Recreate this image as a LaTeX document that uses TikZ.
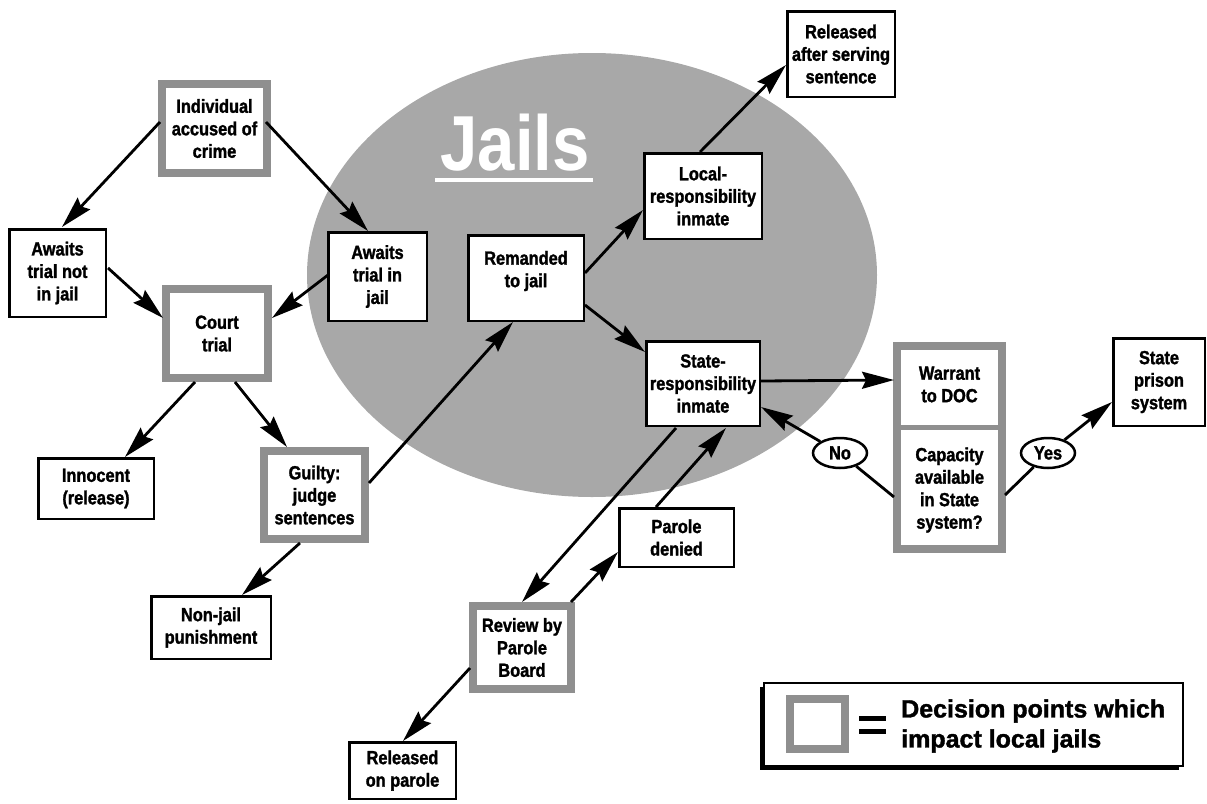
\documentclass[tikz,border=0pt]{standalone}
\usepackage{fontspec}
\setmainfont{Liberation Sans}
\newfontfamily\boxfont[FakeStretch=0.86,FakeBold=1.5]{Liberation Sans}
\newfontfamily\jailfont[FakeStretch=0.86]{Liberation Sans}
\newfontfamily\legendfont[FakeBold=1.5]{Liberation Sans}
\usetikzlibrary{arrows.meta,shapes.geometric}
\definecolor{jailgray}{gray}{0.66}
\definecolor{decgray}{gray}{0.56}
\tikzset{
  boxtext/.style={align=center, inner sep=0pt, font=\boxfont\bfseries\fontsize{19}{22.5}\selectfont},
  plain/.style={boxtext, draw, line width=2.5pt, fill=white},
  decision/.style={boxtext, draw=decgray, line width=8pt, fill=white},
  arr/.style={line width=2.8pt, -{Stealth[length=32pt,width=17pt,inset=4pt]}},
  link/.style={line width=2.8pt},
  yn/.style={ellipse, draw, line width=2.5pt, fill=white, minimum width=54pt, minimum height=30pt, inner sep=0pt, font=\boxfont\bfseries\fontsize{19}{22}\selectfont}
}
\begin{document}
\begin{tikzpicture}[x=1pt,y=-1pt]
\useasboundingbox (0,0) rectangle (1207,803);
% jail ellipse
\fill[jailgray] (592,275) ellipse [x radius=285pt, y radius=222pt];
\node[text=white, font=\jailfont\bfseries\fontsize{78}{78}\selectfont, anchor=base, inner sep=0pt] (jails) at (515,170) {Jails};
\draw[white, line width=4pt] ([shift={(-80,10)}]jails.base) -- ([shift={(78,10)}]jails.base);

% boxes
\node[decision, minimum width=105pt, minimum height=89pt] (indiv) at (214.5,128.5) {Individual\\accused of\\crime};
\node[plain, minimum width=96.5pt, minimum height=87.5pt] (notjail) at (57.5,273) {Awaits\\trial not\\in jail};
\node[plain, minimum width=98.5pt, minimum height=88.5pt] (injail) at (377.5,276.5) {Awaits\\trial in\\jail};
\node[decision, minimum width=102pt, minimum height=89pt] (court) at (217,333.5) {Court\\trial};
\node[plain, minimum width=115.5pt, minimum height=60.5pt] (innocent) at (96,488.5) {Innocent\\(release)};
\node[decision, minimum width=101pt, minimum height=88pt] (guilty) at (314.5,495) {Guilty:\\judge\\sentences};
\node[plain, minimum width=119.5pt, minimum height=62.5pt] (nonjail) at (211,627.5) {Non-jail\\punishment};
\node[plain, minimum width=115.5pt, minimum height=85.5pt] (remanded) at (526,278) {};
\node[boxtext] (remandedtext) at (526,271) {Remanded\\to jail};
\node[plain, minimum width=117.5pt, minimum height=85.5pt] (local) at (703,196) {Local-\\responsibility\\inmate};
\node[plain, minimum width=107.5pt, minimum height=85.5pt] (released) at (841,54) {Released\\after serving\\sentence};
\node[plain, minimum width=113.5pt, minimum height=84.5pt] (state) at (703,383.5) {State-\\responsibility\\inmate};
\node[decision, minimum width=105pt, minimum height=203pt] (dbox) at (949.5,447.5) {};
\draw[decgray, line width=5pt] ([shift={(0,-20.5)}]dbox.west) -- ([shift={(0,-20.5)}]dbox.east);
\node[boxtext, minimum width=113pt, minimum height=85pt] (warrant) at (949.5,384.5) {Warrant\\to DOC};
\node[boxtext, minimum width=113pt, minimum height=126pt] (capacity) at (949.5,490) {Capacity\\available\\in State\\system?};
\node[plain, minimum width=91.5pt, minimum height=87.5pt] (prison) at (1159,382) {State\\prison\\system};
\node[plain, minimum width=114.5pt, minimum height=58.5pt] (denied) at (676.5,537.5) {Parole\\denied};
\node[decision, minimum width=98pt, minimum height=83pt] (review) at (522,647.5) {Review by\\Parole\\Board};
\node[plain, minimum width=106.5pt, minimum height=56.5pt] (parole) at (402.5,770.5) {Released\\on parole};
\node[yn] (no) at (840,453) {No};
\node[yn] (yes) at (1048,453) {Yes};

% connectors
\draw[arr] ([shift={(-54.5,-6.5)}]indiv.center) -- ([shift={(4.5,-46)}]notjail.center);
\draw[arr] ([shift={(51.5,-6.5)}]indiv.center) -- ([shift={(-9.5,-45.5)}]injail.center);
\draw[arr] ([shift={(50.5,-5)}]notjail.center) -- ([shift={(-54,-15.5)}]court.center);
\draw[arr] ([shift={(-49.5,-1.5)}]injail.center) -- ([shift={(55,-15.5)}]court.center);
\draw[arr] ([shift={(-22,48.5)}]court.center) -- ([shift={(29,-31.5)}]innocent.center);
\draw[arr] ([shift={(18,48.5)}]court.center) -- ([shift={(-27.5,-48)}]guilty.center);
\draw[arr] ([shift={(-14.5,48)}]guilty.center) -- ([shift={(31,-32.5)}]nonjail.center);
\draw[arr] ([shift={(54.5,-12)}]guilty.center) -- ([shift={(-13,44)}]remanded.center);
\draw[arr] ([shift={(59,-5)}]remanded.center) -- ([shift={(-60,14)}]local.center);
\draw[arr] ([shift={(-3,-44)}]local.center) -- ([shift={(-55,11)}]released.center);
\draw[arr] ([shift={(59,27)}]remanded.center) -- ([shift={(-58,-31.5)}]state.center);
\draw[arr] ([shift={(58,-2.5)}]state.center) -- ([shift={(-55.5,-4.5)}]warrant.center);
\draw[link] ([shift={(-55.5,7)}]capacity.center) -- (no);
\draw[arr] (no) -- ([shift={(58,23.5)}]state.center);
\draw[link] ([shift={(55.5,5)}]capacity.center) -- (yes);
\draw[arr] (yes) -- ([shift={(-47,20)}]prison.center);
\draw[arr] ([shift={(-27,44.5)}]state.center) -- ([shift={(0,-45.5)}]review.center);
\draw[arr] ([shift={(49,-45.5)}]review.center) -- ([shift={(-58.5,14.5)}]denied.center);
\draw[arr] ([shift={(-20.5,-30.5)}]denied.center) -- ([shift={(23,44.5)}]state.center);
\draw[arr] ([shift={(-52,20.5)}]review.center) -- ([shift={(0.5,-29.5)}]parole.center);

% legend
\fill (760,687) rectangle (1179,770);
\draw[line width=2pt, fill=white] (764,683) rectangle (1183,766);
\node[decision, minimum width=55pt, minimum height=50pt] (key) at (817.5,724) {};
\fill ([shift={(41,-8)}]key.center) rectangle ([shift={(68.5,-3)}]key.center);
\fill ([shift={(41,5)}]key.center) rectangle ([shift={(68.5,10)}]key.center);
\node[anchor=west, align=left, inner sep=0pt, font=\legendfont\bfseries\fontsize{25}{30}\selectfont] (legendtext) at (901,726) {Decision points which\\impact local jails};
\end{tikzpicture}
\end{document}
